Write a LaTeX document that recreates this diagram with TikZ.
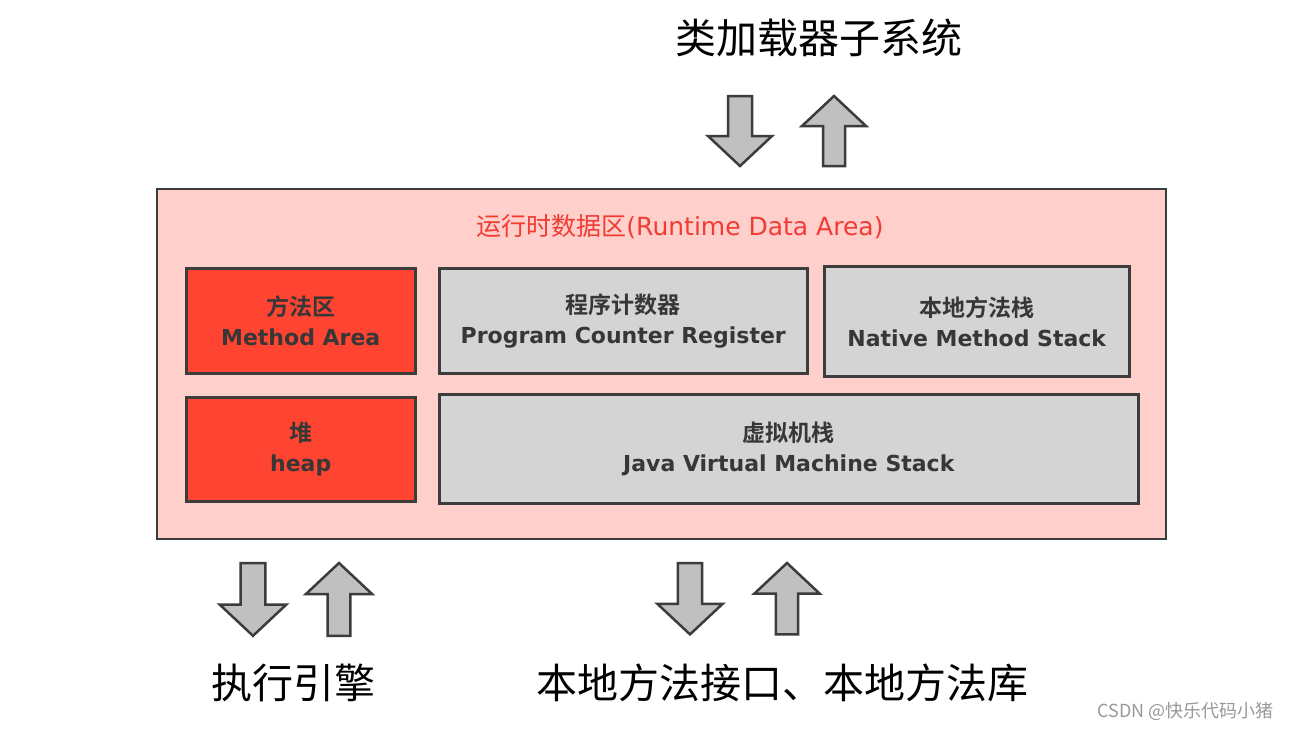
\documentclass[tikz,border=0pt]{standalone}
\usepackage{fontspec}
\newfontfamily\cjk{Noto Sans CJK SC}[BoldFont={Noto Sans CJK SC Bold}]
\newfontfamily\lat{DejaVu Sans}[BoldFont={DejaVu Sans Bold}]
\definecolor{pinkbg}{RGB}{255,207,204}
\definecolor{redbox}{RGB}{255,68,50}
\definecolor{graybox}{RGB}{212,212,212}
\definecolor{edgec}{RGB}{60,60,60}
\definecolor{arrfill}{RGB}{192,192,192}
\definecolor{txtc}{RGB}{55,55,55}
\definecolor{titlered}{RGB}{240,60,50}
\newcommand{\boxtxt}[2]{{\cjk\bfseries\fontsize{23}{30}\selectfont #1}\\{\lat\bfseries\fontsize{22}{30}\selectfont #2}}
\begin{document}
\begin{tikzpicture}[x=1pt,y=-1pt,
  area/.style={draw=edgec,line width=2.5pt,inner sep=0pt,anchor=north west,
    font=\fontsize{22}{30}\selectfont,text=txtc,align=center},
  redarea/.style={area,fill=redbox},
  grayarea/.style={area,fill=graybox},
  bigtext/.style={font=\cjk\fontsize{41}{48}\selectfont,text=black},
  arrshape/.style={draw=edgec,fill=arrfill,line width=2.5pt,line join=miter},
  downarr/.pic={\draw[arrshape] (-12,0) -- (12,0) -- (12,40) -- (32,40) -- (0,70) -- (-32,40) -- (-12,40) -- cycle;},
  uparr/.pic={\draw[arrshape] (0,0) -- (32,30) -- (11,30) -- (11,70) -- (-11,70) -- (-11,30) -- (-32,30) -- cycle;}
]
\useasboundingbox[fill=white] (0,0) rectangle (1290,729);
% title
\node[bigtext] (cls) at (819,38) {类加载器子系统};
\pic at (740,96) {downarr};
\pic at (834,96) {uparr};
% outer box
\node[draw=edgec,line width=2pt,fill=pinkbg,anchor=north west,minimum width=1009pt,minimum height=350pt,inner sep=0pt] (rda) at (156,188) {};
\node[text=titlered,inner sep=0pt] (rdat) at (680,227) {{\cjk\fontsize{25}{28}\selectfont 运行时数据区}{\lat\fontsize{25}{28}\selectfont (Runtime Data Area)}};
% inner boxes
\node[redarea,minimum width=229pt,minimum height=105pt] (ma) at (185,267) {\boxtxt{方法区}{Method Area}};
\node[grayarea,minimum width=368pt,minimum height=105pt] (pc) at (438,267) {\boxtxt{程序计数器}{Program Counter Register}};
\node[grayarea,minimum width=305pt,minimum height=110pt] (nms) at (823,265) {\boxtxt{本地方法栈}{Native Method Stack}};
\node[redarea,minimum width=229pt,minimum height=104pt] (heap) at (185,396) {\boxtxt{堆}{heap}};
\node[grayarea,minimum width=699pt,minimum height=109pt] (jvms) at (438,393) {\boxtxt{虚拟机栈}{Java Virtual Machine Stack}};
% bottom arrows
\pic[scale=1.04] at (253,563) {downarr};
\pic[scale=1.04] at (339,563) {uparr};
\pic[scale=1.02] at (690,563) {downarr};
\pic[scale=1.02] at (787,563) {uparr};
\node[bigtext] (exe) at (293,683) {执行引擎};
\node[bigtext] (nat) at (782,683) {本地方法接口、本地方法库};
\node[font=\cjk\fontsize{18}{22}\selectfont,text=gray!80,anchor=east] (wm) at (1277,711) {CSDN @快乐代码小猪};
\end{tikzpicture}
\end{document}
